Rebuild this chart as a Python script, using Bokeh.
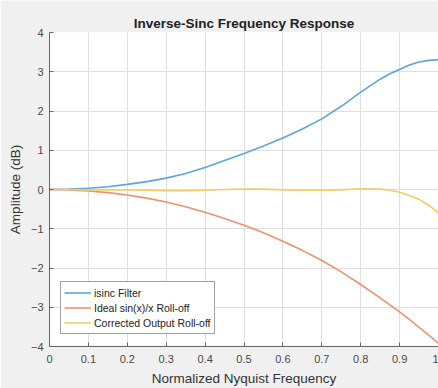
from bokeh.plotting import figure
from bokeh.models import FixedTicker, Range1d, Legend, LegendItem
from bokeh.embed import file_html
from bokeh.resources import INLINE

freq = [0.0, 0.05, 0.1, 0.15, 0.2, 0.25, 0.3, 0.35, 0.4, 0.45, 0.5,
        0.55, 0.6, 0.65, 0.7, 0.75, 0.8, 0.85, 0.875, 0.9, 0.925, 0.95, 0.975, 1.0]
isinc = [0.0, 0.01, 0.03, 0.07, 0.13, 0.20, 0.29, 0.41, 0.56, 0.74, 0.92,
         1.11, 1.31, 1.54, 1.80, 2.12, 2.48, 2.81, 2.95, 3.06, 3.17, 3.25, 3.29, 3.31]
ideal = [0.0, -0.01, -0.04, -0.08, -0.14, -0.22, -0.32, -0.44, -0.58, -0.74, -0.91,
         -1.10, -1.32, -1.55, -1.81, -2.10, -2.42, -2.76, -2.94, -3.12, -3.31, -3.51, -3.71, -3.92]
corrected = [0.0, 0.0, -0.01, -0.01, -0.01, -0.02, -0.03, -0.03, -0.02, 0.0, 0.01,
             0.01, -0.01, -0.02, -0.02, -0.01, 0.02, 0.01, -0.02, -0.07, -0.15, -0.25, -0.40, -0.60]

x_ticks = [0.0, 0.1, 0.2, 0.3, 0.4, 0.5, 0.6, 0.7, 0.8, 0.9, 1.0]
x_tick_labels = ["0", "0.1", "0.2", "0.3", "0.4", "0.5", "0.6", "0.7", "0.8", "0.9", "1"]
y_ticks = [-4, -3, -2, -1, 0, 1, 2, 3, 4]

series_names = ["isinc Filter", "Ideal sin(x)/x Roll-off", "Corrected Output Roll-off"]
series_colors = ["#5aa6dc", "#f0906e", "#f4cb66"]

FONT = "Liberation Sans"

p = figure(width=438, height=388, output_backend="svg", toolbar_location=None,
           x_range=Range1d(0, 1), y_range=Range1d(-4, 4),
           min_border_left=49, min_border_right=0, min_border_top=32, min_border_bottom=39,
           title="Inverse-Sinc Frequency Response")

p.border_fill_color = "#f0f0f0"
p.background_fill_color = "white"
p.outline_line_color = None

p.title.align = "center"
p.title.text_font = FONT
p.title.text_font_size = "13.5px"
p.title.text_font_style = "bold"
p.title.text_color = "#222222"
p.title.offset = 0
p.title.standoff = 4

renderers = []
for ys, c in zip([isinc, ideal, corrected], series_colors):
    r = p.line(freq, ys, line_color=c, line_width=1.6)
    renderers.append(r)

p.xaxis.ticker = FixedTicker(ticks=x_ticks)
p.xaxis.major_label_overrides = {t: l for t, l in zip(x_ticks, x_tick_labels)}
p.yaxis.ticker = FixedTicker(ticks=y_ticks)

for ax in (p.xaxis, p.yaxis):
    ax.axis_line_color = "#666666"
    ax.major_tick_line_color = "#666666"
    ax.major_tick_in = 4
    ax.major_tick_out = 0
    ax.minor_tick_line_color = None
    ax.major_label_text_font = FONT
    ax.major_label_text_font_size = "11px"
    ax.major_label_text_color = "#4a4a4a"
    ax.axis_label_text_font = FONT
    ax.axis_label_text_font_size = "13.5px"
    ax.axis_label_text_font_style = "normal"
    ax.axis_label_text_color = "#333333"

p.xaxis.axis_label = "Normalized Nyquist Frequency"
p.yaxis.axis_label = "Amplitude (dB)"
p.xaxis.major_label_standoff = 8
p.xaxis.axis_label_standoff = 5
p.yaxis.major_label_standoff = 6
p.yaxis.axis_label_standoff = 5

p.xgrid.grid_line_color = "#dedede"
p.ygrid.grid_line_color = "#dedede"

legend = Legend(items=[LegendItem(label=n, renderers=[r]) for n, r in zip(series_names, renderers)],
                location=(11, 12))
legend.background_fill_color = "white"
legend.background_fill_alpha = 1
legend.border_line_color = "#444444"
legend.border_line_width = 1
legend.label_text_font = FONT
legend.label_text_font_size = "10.5px"
legend.label_text_color = "#222222"
legend.padding = 3
legend.margin = 0
legend.spacing = 0
legend.label_height = 15
legend.glyph_height = 15
legend.glyph_width = 27
legend.label_standoff = 3
p.add_layout(legend, "center")

open("out.html", "w").write(file_html(p, INLINE))
